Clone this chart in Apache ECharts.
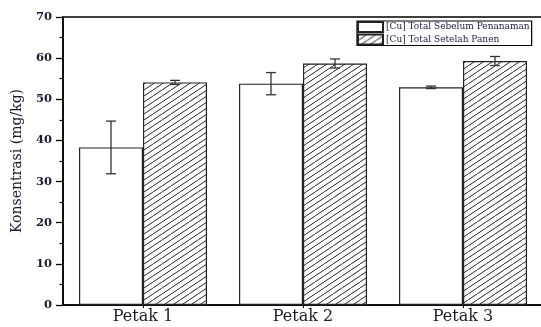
<!DOCTYPE html>
<html>
<head>
<meta charset="utf-8">
<script src="https://cdn.jsdelivr.net/npm/echarts@6/dist/echarts.min.js"></script>
<style>
  html, body { margin: 0; padding: 0; background: #fff; }
  #chart { width: 541px; height: 327px; }
</style>
</head>
<body>
<div id="chart"></div>
<script>
// Cu concentration per plot, before planting and after harvest
const categories = ['Petak 1', 'Petak 2', 'Petak 3'];
const seriesNames = ['[Cu] Total Sebelum Penanaman', '[Cu] Total Setelah Panen'];
const beforeValues = [38.3, 53.8, 52.9];
const beforeErrors = [6.4, 2.7, 0.3];
const afterValues = [54.1, 58.7, 59.3];
const afterErrors = [0.5, 1.1, 1.1];
const yTicks = [0, 10, 20, 30, 40, 50, 60, 70];

// Diagonal hatch tile for the second series
function hatchPattern() {
  const w = 9, h = 6;
  const c = document.createElement('canvas');
  c.width = w; c.height = h;
  const g = c.getContext('2d');
  g.fillStyle = '#fff';
  g.fillRect(0, 0, w, h);
  g.strokeStyle = '#222';
  g.lineWidth = 1;
  g.beginPath();
  g.moveTo(0, h); g.lineTo(w, 0);
  g.moveTo(-w, h); g.lineTo(0, 0);
  g.moveTo(w, h); g.lineTo(2 * w, 0);
  g.stroke();
  return { image: c, repeat: 'repeat' };
}
const hatch = hatchPattern();

// Error bars drawn at the centre of each bar of a group
function errorSeries(values, errors, side) {
  return {
    type: 'custom',
    z: 10,
    silent: true,
    data: values.map((v, i) => [i, v - errors[i], v + errors[i]]),
    renderItem: function (params, api) {
      const idx = api.value(0);
      const lo = api.coord([idx, api.value(1)]);
      const hi = api.coord([idx, api.value(2)]);
      const bw = api.size([1, 0])[0] * 0.4;
      const x = lo[0] + side * bw / 2;
      const cap = 5;
      const st = { stroke: '#333', lineWidth: 1.3 };
      return {
        type: 'group',
        children: [
          { type: 'line', shape: { x1: x, y1: lo[1], x2: x, y2: hi[1] }, style: st },
          { type: 'line', shape: { x1: x - cap, y1: lo[1], x2: x + cap, y2: lo[1] }, style: st },
          { type: 'line', shape: { x1: x - cap, y1: hi[1], x2: x + cap, y2: hi[1] }, style: st }
        ]
      };
    }
  };
}

const chart = echarts.init(document.getElementById('chart'), null, { renderer: 'canvas' });
chart.setOption({
  animation: false,
  backgroundColor: '#fff',
  grid: {
    left: 63, top: 17, width: 480, height: 288,
    outerBoundsMode: 'none',
    show: true, borderColor: '#000', borderWidth: 1.5, backgroundColor: '#fff'
  },
  legend: {
    left: 357, top: 21,
    orient: 'vertical',
    itemGap: 0.5,
    itemWidth: 25, itemHeight: 10,
    padding: [0, 2, 0, 0],
    borderColor: '#000', borderWidth: 1.2,
    icon: 'rect',
    data: seriesNames,
    textStyle: { fontFamily: 'DejaVu Serif', fontSize: 9, lineHeight: 10, color: '#22224a', padding: [0, 0, 0, -2] }
  },
  xAxis: {
    type: 'category',
    data: categories,
    axisLine: { lineStyle: { color: '#000', width: 1.5 } },
    axisTick: { show: true, alignWithLabel: true, length: 3, lineStyle: { color: '#000' } },
    axisLabel: { fontFamily: 'DejaVu Serif', fontSize: 16, color: '#1a1a33', margin: 4 }
  },
  yAxis: {
    type: 'value',
    min: yTicks[0], max: yTicks[yTicks.length - 1], interval: 10,
    name: 'Konsentrasi (mg/kg)',
    nameLocation: 'middle',
    nameGap: 39,
    nameTextStyle: { fontFamily: 'DejaVu Serif', fontSize: 14, color: '#1a1a33' },
    axisLine: { show: true, lineStyle: { color: '#000', width: 1.5 } },
    axisTick: { show: true, inside: false, length: 7, lineStyle: { color: '#000', width: 1.3 } },
    minorTick: { show: true, splitNumber: 2, length: 3.5, lineStyle: { color: '#000', width: 1.2 } },
    splitLine: { show: false },
    axisLabel: { fontFamily: 'DejaVu Serif', fontWeight: 'bold', fontSize: 11.5, color: '#1a1a33', margin: 11 }
  },
  series: [
    {
      name: seriesNames[0],
      type: 'bar',
      data: beforeValues,
      barGap: '0%',
      barCategoryGap: '20%',
      itemStyle: { color: '#fff', borderColor: '#222', borderWidth: 1.2 }
    },
    {
      name: seriesNames[1],
      type: 'bar',
      data: afterValues,
      barGap: '0%',
      barCategoryGap: '20%',
      itemStyle: { color: hatch, borderColor: '#222', borderWidth: 1.2 }
    },
    errorSeries(beforeValues, beforeErrors, -1),
    errorSeries(afterValues, afterErrors, 1)
  ]
});
</script>
</body>
</html>
